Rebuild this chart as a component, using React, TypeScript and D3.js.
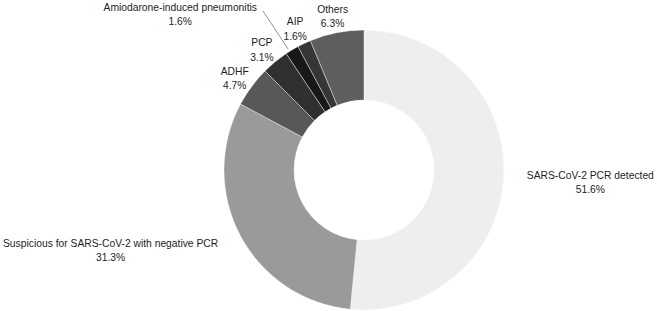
import React from "react"
import * as d3 from "d3"

// diagnoses (n = 64)
const categories = [
  "SARS-CoV-2 PCR detected",
  "Suspicious for SARS-CoV-2 with negative PCR",
  "ADHF",
  "PCP",
  "Amiodarone-induced pneumonitis",
  "AIP",
  "Others",
]
const counts = [33, 20, 3, 2, 1, 1, 4]
const percentLabels = ["51.6%", "31.3%", "4.7%", "3.1%", "1.6%", "1.6%", "6.3%"]
const sliceColors = ["#eeeeee", "#9a9a9a", "#585858", "#303030", "#181818", "#363636", "#5e5e5e"]

const W = 657
const H = 311
const cx = 364
const cy = 170
const outerR = 140
const innerR = 70
const labelR = 161
const fontSize = 10.3
const fontFamily = "'Liberation Sans', Arial, sans-serif"

// measure with a throwaway svg text so the width matches what gets drawn
function textWidth(t: string) {
  const svg = d3.select(document.body).append("svg").attr("width", 0).attr("height", 0)
  const node = svg.append("text")
    .attr("font-family", fontFamily)
    .attr("font-size", fontSize)
    .text(t)
    .node() as SVGTextElement
  const w = node.getComputedTextLength()
  svg.remove()
  return w || t.length * fontSize * 0.5
}

export default function App() {
  const pie = d3.pie<number>().sort(null).value(d => d)
  const arcs = pie(counts)
  const arc = d3.arc<d3.PieArcDatum<number>>().innerRadius(innerR).outerRadius(outerR)

  const labels = arcs.map((a, i) => {
    const mid = (a.startAngle + a.endAngle) / 2
    const s = Math.sin(mid), c = Math.cos(mid)
    const w = Math.max(textWidth(categories[i]), textWidth(percentLabels[i]))
    let x = labelR * s
    let y = -labelR * c + 4
    // wide labels sit beside the ring, the rest are centred on the label radius
    if (s > 0.85) x += 2 + w / 2
    if (s < -0.85) x = Math.max(x - 9 - w / 2, -cx + 3 + w / 2)
    let leader = null
    if (categories[i] === "Amiodarone-induced pneumonitis") {
      // label pulled out to the left with a leader line
      const px = outerR * s, py = -outerR * c
      x = x - 101
      y = y - 22
      leader = { x1: x + w / 2 + 6, y1: y - 3, x2: px - 4, y2: py - 1 }
    }
    return { x, y, leader, name: categories[i], pct: percentLabels[i] }
  })

  return (
    <svg width={W} height={H} style={{ position: "absolute", left: 0, top: 0 }}
      fontFamily={fontFamily}>
      <rect width={W} height={H} fill="#fff" />
      <g transform={`translate(${cx},${cy})`}>
        {arcs.map((a, i) => (
          <path key={i} d={arc(a) || ""} fill={sliceColors[i]} stroke="#fff" strokeWidth={0.4} />
        ))}
        {labels.map((l, i) => (
          <g key={"l" + i} textAnchor="middle" fontSize={fontSize} fill="#1e1e1e">
            {l.leader && (
              <line x1={l.leader.x1} y1={l.leader.y1} x2={l.leader.x2} y2={l.leader.y2}
                stroke="#777" strokeWidth={0.8} />
            )}
            <text x={l.x} y={l.y - 7 + fontSize * 0.36}>{l.name}</text>
            <text x={l.x} y={l.y + 7.5 + fontSize * 0.36}>{l.pct}</text>
          </g>
        ))}
      </g>
    </svg>
  )
}
